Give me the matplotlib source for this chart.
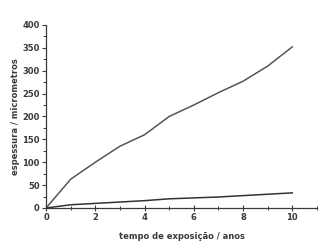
import matplotlib.pyplot as plt
from matplotlib.ticker import MultipleLocator

# dados
anos = [0, 1, 2, 3, 4, 5, 6, 7, 8, 9, 10]
espessura_alta = [0, 63, 100, 135, 160, 200, 225, 252, 277, 310, 352]
espessura_baixa = [0, 7, 10, 13, 16, 20, 22, 24, 27, 30, 33]

cor = '#3a3a3a'
plt.rcParams['font.family'] = 'DejaVu Sans'
plt.rcParams['font.weight'] = 'bold'

fig = plt.figure(figsize=(3.27, 2.47), dpi=100)
ax = fig.add_axes([0.141, 0.158, 0.828, 0.741])

ax.plot(anos, espessura_alta, color='#555555', lw=1.1)
ax.plot(anos, espessura_baixa, color='#333333', lw=1.1)

ax.set_xlim(0, 11)
ax.set_ylim(0, 400)
ax.xaxis.set_major_locator(MultipleLocator(2))
ax.xaxis.set_minor_locator(MultipleLocator(1))
ax.yaxis.set_major_locator(MultipleLocator(50))
ax.yaxis.set_minor_locator(MultipleLocator(25))

for s in ['top', 'right']:
    ax.spines[s].set_visible(False)
for s in ['left', 'bottom']:
    ax.spines[s].set_color(cor)
    ax.spines[s].set_linewidth(0.9)

ax.tick_params(which='major', direction='inout', length=4, width=0.8,
               colors=cor, labelsize=6, pad=1.5)
ax.tick_params(which='minor', direction='inout', length=2.5, width=0.7, colors=cor)
ax.tick_params(axis='y', which='major', direction='out', length=3)
ax.tick_params(axis='y', which='minor', direction='out', length=2)

ax.set_xlabel('tempo de exposição / anos', fontsize=6, color=cor,
              fontweight='bold', labelpad=7)
ax.set_ylabel('espessura / micrometros', fontsize=6, color=cor,
              fontweight='bold', labelpad=1.5)

fig.savefig('out.png', dpi=100)
